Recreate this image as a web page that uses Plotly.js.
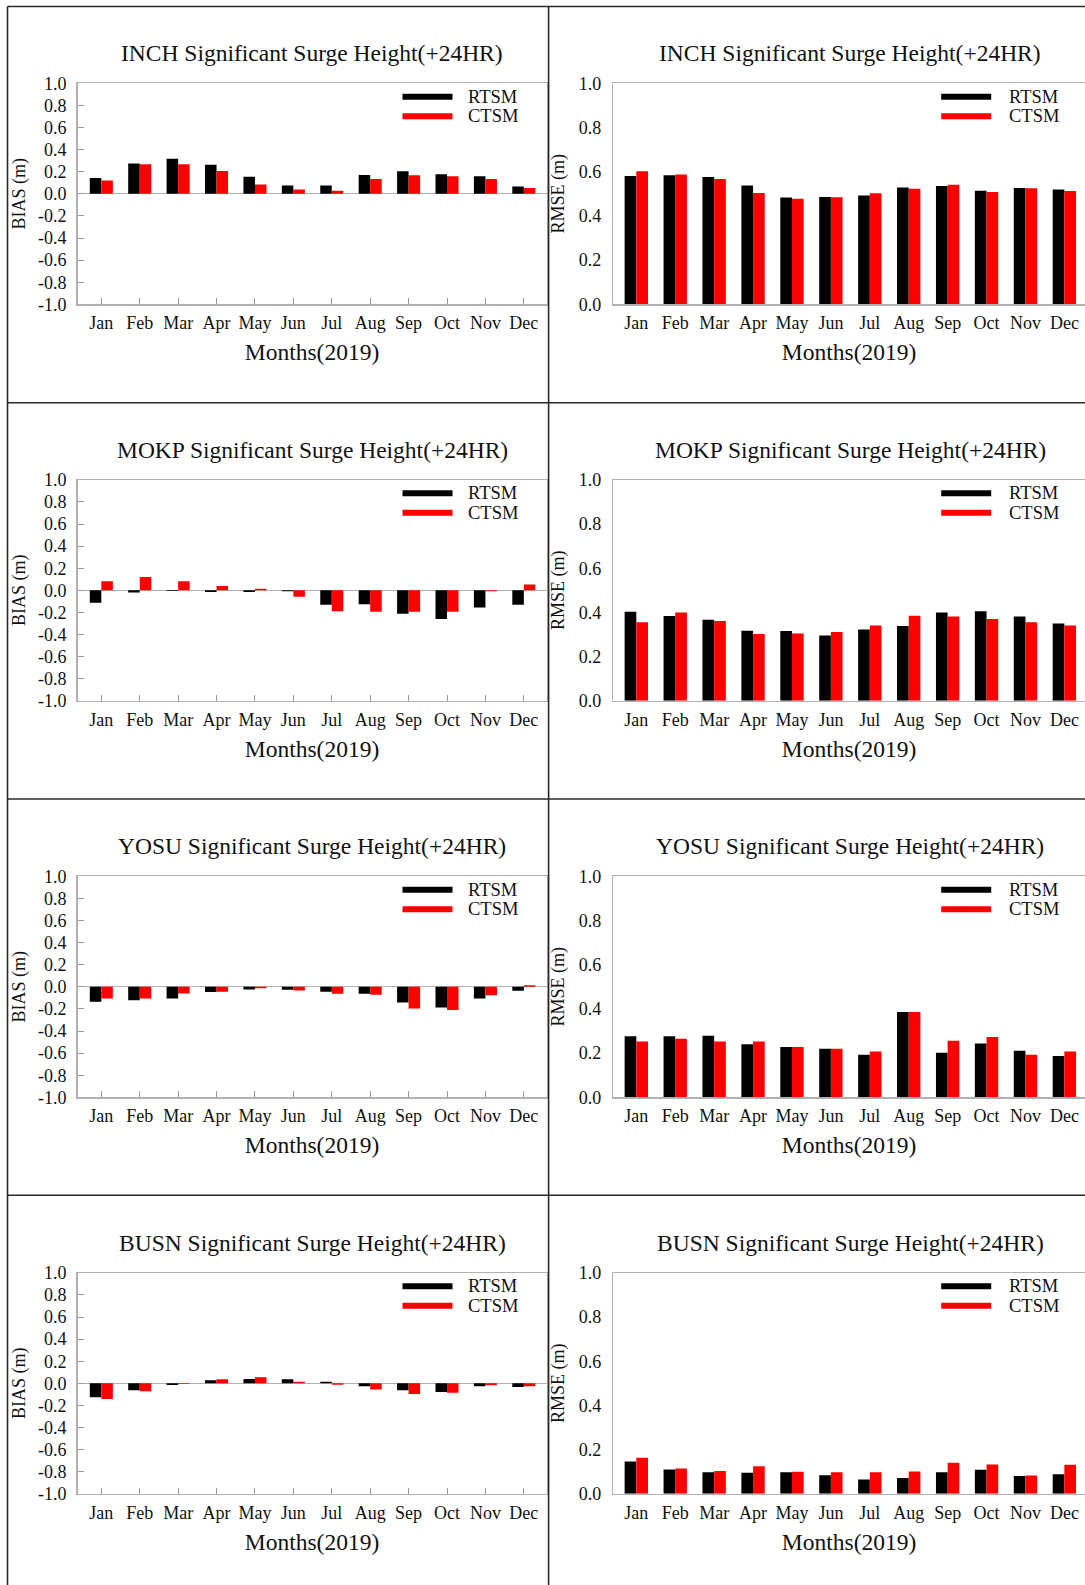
<!DOCTYPE html>
<html>
<head>
<meta charset="utf-8">
<script src="https://cdn.plot.ly/plotly-3.0.1.min.js"></script>
<style>html,body{margin:0;padding:0;background:#fff;}#chart{width:1085px;height:1585px;}</style>
</head>
<body>
<div id="chart"></div>
<script>
// ---------- DATA ----------
const months = ['Jan','Feb','Mar','Apr','May','Jun','Jul','Aug','Sep','Oct','Nov','Dec'];
const stations = ['INCH','MOKP','YOSU','BUSN'];
const seriesNames = ['RTSM','CTSM'];
const biasTicks = [-1.0,-0.8,-0.6,-0.4,-0.2,0.0,0.2,0.4,0.6,0.8,1.0];
const biasTickLabels = ['-1.0','-0.8','-0.6','-0.4','-0.2','0.0','0.2','0.4','0.6','0.8','1.0'];
const rmseTicks = [0.0,0.2,0.4,0.6,0.8,1.0];
const rmseTickLabels = ['0.0','0.2','0.4','0.6','0.8','1.0'];

const inchBiasRTSM = [0.142,0.275,0.318,0.264,0.155,0.076,0.076,0.170,0.203,0.176,0.158,0.067];
const inchBiasCTSM = [0.120,0.267,0.267,0.206,0.085,0.040,0.027,0.133,0.167,0.158,0.133,0.052];
const inchRmseRTSM = [0.581,0.584,0.576,0.538,0.483,0.486,0.492,0.529,0.535,0.514,0.526,0.519];
const inchRmseCTSM = [0.602,0.587,0.567,0.504,0.478,0.484,0.502,0.523,0.541,0.508,0.525,0.513];

const mokpBiasRTSM = [-0.112,-0.021,-0.006,-0.015,-0.015,-0.009,-0.130,-0.127,-0.212,-0.260,-0.155,-0.130];
const mokpBiasCTSM = [0.082,0.121,0.082,0.039,0.015,-0.058,-0.190,-0.194,-0.194,-0.194,-0.009,0.052];
const mokpRmseRTSM = [0.403,0.384,0.367,0.317,0.316,0.295,0.323,0.338,0.399,0.405,0.381,0.350];
const mokpRmseCTSM = [0.355,0.400,0.361,0.302,0.304,0.311,0.341,0.385,0.381,0.370,0.355,0.341];

const yosuBiasRTSM = [-0.136,-0.121,-0.106,-0.048,-0.024,-0.027,-0.045,-0.064,-0.142,-0.188,-0.106,-0.036];
const yosuBiasCTSM = [-0.106,-0.106,-0.061,-0.045,-0.012,-0.033,-0.064,-0.073,-0.197,-0.209,-0.076,0.015];
const yosuRmseRTSM = [0.276,0.276,0.278,0.240,0.228,0.220,0.193,0.386,0.202,0.244,0.211,0.187];
const yosuRmseCTSM = [0.252,0.265,0.252,0.252,0.228,0.220,0.207,0.386,0.256,0.273,0.193,0.207];

const busnBiasRTSM = [-0.127,-0.064,-0.015,0.027,0.039,0.036,0.015,-0.027,-0.064,-0.079,-0.027,-0.033];
const busnBiasCTSM = [-0.142,-0.073,-0.006,0.036,0.055,0.015,-0.012,-0.055,-0.097,-0.085,-0.018,-0.027];
const busnRmseRTSM = [0.146,0.110,0.097,0.095,0.097,0.084,0.065,0.071,0.098,0.109,0.080,0.089];
const busnRmseCTSM = [0.163,0.115,0.103,0.125,0.100,0.097,0.097,0.101,0.140,0.133,0.083,0.131];

// ---------- LAYOUT ----------
const W = 1085, H = 1585;
const FONT = 'Liberation Serif, Times New Roman, serif';
const TXT = '#111';
const colors = {RTSM: '#000000', CTSM: '#ff0000'};
const rows = [
  {st: stations[0], bias: [inchBiasRTSM, inchBiasCTSM], rmse: [inchRmseRTSM, inchRmseCTSM]},
  {st: stations[1], bias: [mokpBiasRTSM, mokpBiasCTSM], rmse: [mokpRmseRTSM, mokpRmseCTSM]},
  {st: stations[2], bias: [yosuBiasRTSM, yosuBiasCTSM], rmse: [yosuRmseRTSM, yosuRmseCTSM]},
  {st: stations[3], bias: [busnBiasRTSM, busnBiasCTSM], rmse: [busnRmseRTSM, busnRmseCTSM]}
];
const px = x => x / W;
const py = y => 1 - y / H;

const panels = [
  {left: 77.5, right: 546.5, range: [-0.62, 11.59], kind: 'bias', titleX: 312, legTxt: 388, tickStand: 6, titleStand: 7},
  {left: 613.2, right: 1085, range: [-0.594, 11.53], kind: 'rmse', titleX: 850, legTxt: 394, tickStand: 7, titleStand: 9}
];
const ROW0 = 83.3, ROWSTEP = 396.5, PH = 221;

const traces = [];
const layout = {
  width: W, height: H,
  margin: {l: 0, r: 0, t: 0, b: 0},
  paper_bgcolor: '#fff', plot_bgcolor: '#fff',
  barmode: 'group', bargap: 0.4, bargroupgap: 0,
  showlegend: false,
  font: {family: FONT, color: TXT, size: 18},
  annotations: [], shapes: []
};

rows.forEach((row, r) => {
  const top = ROW0 + r * ROWSTEP;
  const bottom = top + PH;
  panels.forEach((p, c) => {
    const idx = r * 2 + c + 1;
    const xa = 'xaxis' + (idx === 1 ? '' : idx);
    const ya = 'yaxis' + (idx === 1 ? '' : idx);
    const xr = 'x' + (idx === 1 ? '' : idx);
    const yr = 'y' + (idx === 1 ? '' : idx);
    const isBias = p.kind === 'bias';
    const data = isBias ? row.bias : row.rmse;
    seriesNames.forEach((name, s) => {
      traces.push({
        type: 'bar', name: name, x: months, y: data[s],
        xaxis: xr, yaxis: yr,
        marker: {color: colors[name], line: {width: 0}},
        hoverinfo: 'x+y+name'
      });
    });
    layout[xa] = {
      domain: [px(p.left), px(p.right)],
      anchor: yr, type: 'category', range: p.range,
      showline: true, mirror: true, linecolor: '#b0b0b0', linewidth: 1.3,
      showgrid: false, zeroline: false,
      ticks: isBias ? 'inside' : '', ticklen: 6, tickcolor: '#999', tickwidth: 1,
      tickfont: {family: FONT, size: 18, color: TXT},
      ticklabelstandoff: 2,
      title: {text: 'Months(2019)', font: {family: FONT, size: 23.5, color: TXT}, standoff: 11},
      fixedrange: true
    };
    layout[ya] = {
      domain: [py(bottom), py(top)],
      anchor: xr,
      range: isBias ? [-1, 1] : [0, 1],
      tickmode: 'array',
      tickvals: isBias ? biasTicks : rmseTicks,
      ticktext: isBias ? biasTickLabels : rmseTickLabels,
      showline: true, mirror: true, linecolor: '#b0b0b0', linewidth: 1.3,
      showgrid: false,
      zeroline: isBias, zerolinecolor: '#b0b0b0', zerolinewidth: 1.3,
      ticks: isBias ? 'inside' : '', ticklen: 6, tickcolor: '#999', tickwidth: 1,
      tickfont: {family: FONT, size: 18, color: TXT},
      ticklabelstandoff: p.tickStand,
      title: {text: isBias ? 'BIAS (m)' : 'RMSE (m)', font: {family: FONT, size: 18, color: TXT}, standoff: p.titleStand},
      fixedrange: true
    };
    // panel title
    layout.annotations.push({
      xref: 'paper', yref: 'paper',
      x: px(p.titleX), y: py(top - 30),
      xanchor: 'center', yanchor: 'middle', showarrow: false,
      text: row.st + ' Significant Surge Height(+24HR)',
      font: {family: FONT, size: 23.5, color: TXT}
    });
    // legend (drawn swatches + labels)
    const swL = p.left + (isBias ? 325 : 328);
    const swR = swL + 50;
    const txL = p.left + p.legTxt;
    seriesNames.forEach((name, s) => {
      const yc = top + 13.4 + s * 19.6;
      layout.shapes.push({
        type: 'rect', xref: 'paper', yref: 'paper',
        x0: px(swL), x1: px(swR), y0: py(yc + 3), y1: py(yc - 3),
        fillcolor: colors[name], line: {width: 0}
      });
      layout.annotations.push({
        xref: 'paper', yref: 'paper', x: px(txL), y: py(yc),
        xanchor: 'left', yanchor: 'middle', showarrow: false,
        text: name, font: {family: FONT, size: 18.5, color: TXT}
      });
    });
  });
});

// outer frame and dividers
const frameLine = {color: '#2a2a2a', width: 1.6};
const hl = (y) => ({type: 'line', xref: 'paper', yref: 'paper', x0: px(7.5), x1: 1, y0: py(y), y1: py(y), line: frameLine});
const vl = (x) => ({type: 'line', xref: 'paper', yref: 'paper', x0: px(x), x1: px(x), y0: py(6.5), y1: 0, line: frameLine});
layout.shapes.push(hl(6.5), hl(402.7), hl(799), hl(1195.3), vl(7.5), vl(548.6));

Plotly.newPlot('chart', traces, layout, {displayModeBar: false, staticPlot: true});
</script>
</body>
</html>
